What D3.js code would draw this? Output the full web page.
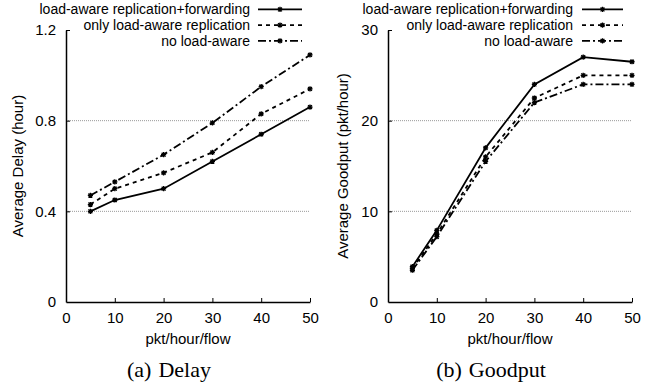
<!DOCTYPE html>
<html>
<head>
<meta charset="utf-8">
<script src="https://cdn.jsdelivr.net/npm/d3@7"></script>
<style>
  html, body { margin: 0; padding: 0; background: #fff; }
  svg { display: block; }
</style>
</head>
<body>
<svg id="chart" width="655" height="387"></svg>
<script>
// Offered load per flow (pkt/hour/flow)
const loads = [5, 10, 20, 30, 40, 50];
const seriesNames = [
  "load-aware replication+forwarding",
  "only load-aware replication",
  "no load-aware"
];

// Average delay (hour)
const delayForwarding  = [0.40, 0.45, 0.50, 0.62, 0.74, 0.86];
const delayReplication = [0.43, 0.50, 0.57, 0.66, 0.83, 0.94];
const delayNone        = [0.47, 0.53, 0.65, 0.79, 0.95, 1.09];

// Average goodput (pkt/hour)
const goodputForwarding  = [3.9, 7.9, 17.0, 24.0, 27.0, 26.5];
const goodputReplication = [3.7, 7.5, 16.0, 22.5, 25.0, 25.0];
const goodputNone        = [3.5, 7.2, 15.5, 22.0, 24.0, 24.0];

const xTicks = [0, 10, 20, 30, 40, 50];
const delayTicks = [0, 0.4, 0.8, 1.2];
const goodputTicks = [0, 10, 20, 30];

// solid, dashed, dash-dot-dot styles
const dashes = [null, "4,4", "8,3,2,3"];

const svg = d3.select("#chart");
const sans = "'Liberation Sans', Arial, Helvetica, sans-serif";
const serif = "'Liberation Serif', 'Times New Roman', serif";
const FS = 15;       // axis text
const LEG_FS = 14;   // legend text
const LEG_STEP = 15.7;

function star(g, cx, cy) {
  const r = 2.6;
  g.append("path")
    .attr("d", `M${cx - r},${cy}H${cx + r}M${cx},${cy - r}V${cy + r}` +
               `M${cx - r * 0.75},${cy - r * 0.75}L${cx + r * 0.75},${cy + r * 0.75}` +
               `M${cx - r * 0.75},${cy + r * 0.75}L${cx + r * 0.75},${cy - r * 0.75}`)
    .attr("stroke", "#000").attr("stroke-width", 1.3).attr("fill", "none");
}

function panel(opts) {
  const { left, right, top, bottom, yMax, yTicks, yFmt, series, yTitle, yTitleX,
          capLabel, capText, legendTextX, legendLineX0, legendLineX1 } = opts;
  const g = svg.append("g");
  const x = d3.scaleLinear().domain([0, 50]).range([left, right]);
  const y = d3.scaleLinear().domain([0, yMax]).range([bottom, top]);

  // dotted grid lines (interior ticks only)
  g.selectAll(".grid").data(yTicks.filter(t => t > 0 && t < yMax)).enter()
    .append("line")
    .attr("x1", left).attr("x2", right)
    .attr("y1", d => y(d)).attr("y2", d => y(d))
    .attr("stroke", "#999").attr("stroke-width", 1).attr("stroke-dasharray", "1,1");

  // axes with inward ticks
  const xAxis = d3.axisBottom(x).tickValues(xTicks).tickSizeInner(-4).tickSizeOuter(0)
    .tickPadding(10).tickFormat(d3.format("d"));
  const gx = g.append("g").attr("transform", `translate(0,${bottom})`).call(xAxis);
  const yAxis = d3.axisLeft(y).tickValues(yTicks).tickSizeInner(-4).tickSizeOuter(0)
    .tickPadding(10).tickFormat(yFmt);
  const gy = g.append("g").attr("transform", `translate(${left},0)`).call(yAxis);
  [gx, gy].forEach(a => {
    a.select(".domain").attr("stroke", "#000").attr("stroke-width", 1.5);
    a.selectAll(".tick line").attr("stroke", "#000").attr("stroke-width", 1);
    a.selectAll(".tick text").attr("font-family", sans).attr("font-size", FS).attr("fill", "#000");
  });
  gx.selectAll(".tick").filter(d => d === 0).select("line").remove();
  gy.selectAll(".tick").filter(d => d === 0).select("line").remove();

  // series lines and markers
  const line = d3.line().x((d, i) => x(loads[i])).y(d => y(d));
  series.forEach((vals, k) => {
    const path = g.append("path").datum(vals).attr("d", line)
      .attr("fill", "none").attr("stroke", "#000").attr("stroke-width", 1.8)
      .attr("stroke-linejoin", "miter");
    if (dashes[k]) path.attr("stroke-dasharray", dashes[k]);
    vals.forEach((v, i) => star(g, x(loads[i]), y(v)));
  });

  // legend, top right of each panel
  seriesNames.forEach((name, k) => {
    const baseline = 14.3 + k * LEG_STEP;
    const ly = baseline - 0.35 * LEG_FS;
    g.append("text").attr("x", legendTextX).attr("y", baseline)
      .attr("text-anchor", "end").attr("font-family", sans).attr("font-size", LEG_FS)
      .text(name);
    const l = g.append("line").attr("x1", legendLineX0).attr("x2", legendLineX1)
      .attr("y1", ly).attr("y2", ly).attr("stroke", "#000").attr("stroke-width", 1.8);
    if (dashes[k]) l.attr("stroke-dasharray", dashes[k]);
    star(g, (legendLineX0 + legendLineX1) / 2, ly);
  });

  // axis titles
  g.append("text").attr("x", (left + right) / 2).attr("y", 344)
    .attr("text-anchor", "middle").attr("font-family", sans).attr("font-size", FS)
    .text("pkt/hour/flow");
  g.append("text")
    .attr("transform", `translate(${yTitleX},${(top + bottom) / 2}) rotate(-90)`)
    .attr("text-anchor", "middle").attr("dy", "0.35em")
    .attr("font-family", sans).attr("font-size", FS).text(yTitle);

  // sub-figure caption
  const cap = g.append("text").attr("x", (left + right) / 2 - 19).attr("y", 376.5)
    .attr("text-anchor", "middle").attr("font-family", serif).attr("font-size", 22);
  cap.append("tspan").text(capLabel);
  cap.append("tspan").attr("dx", 7).text(capText);
}

panel({
  left: 66, right: 310, top: 30, bottom: 302, yMax: 1.2, yTicks: delayTicks,
  yFmt: d => d === 0 ? "0" : d3.format(".1f")(d),
  series: [delayForwarding, delayReplication, delayNone],
  yTitle: "Average Delay (hour)", yTitleX: 18, capLabel: "(a)", capText: "Delay",
  legendTextX: 250, legendLineX0: 258, legendLineX1: 302
});

panel({
  left: 388, right: 632, top: 30, bottom: 302, yMax: 30, yTicks: goodputTicks,
  yFmt: d3.format("d"),
  series: [goodputForwarding, goodputReplication, goodputNone],
  yTitle: "Average Goodput (pkt/hour)", yTitleX: 343, capLabel: "(b)", capText: "Goodput",
  legendTextX: 573, legendLineX0: 582, legendLineX1: 623
});
</script>
</body>
</html>
